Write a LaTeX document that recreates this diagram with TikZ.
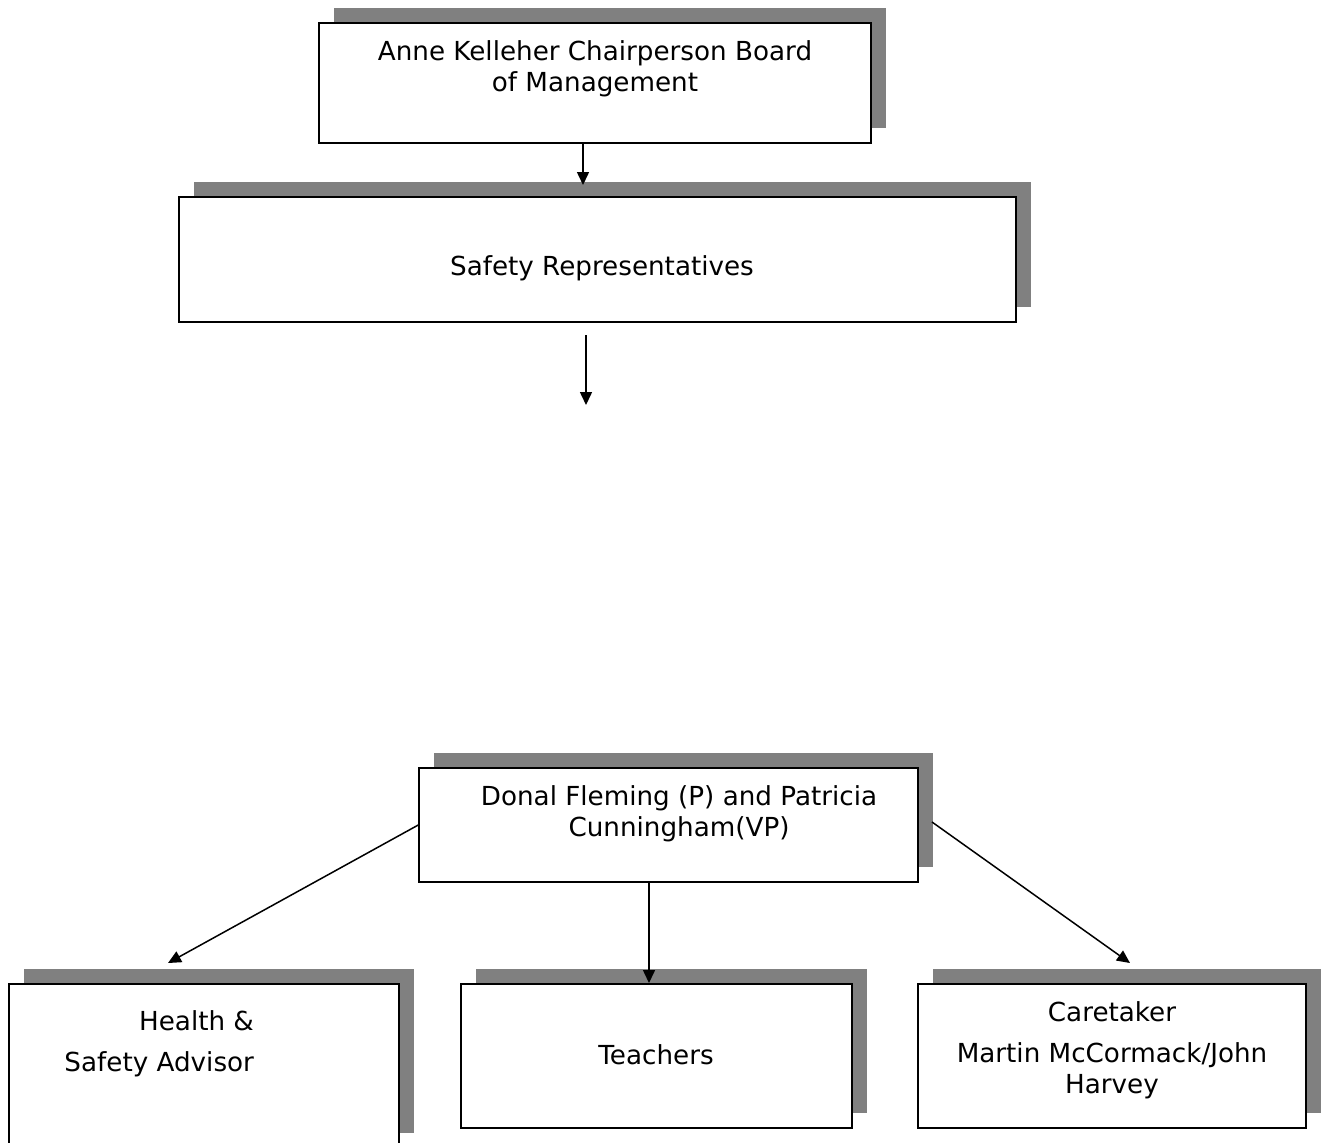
\documentclass[tikz,border=0pt]{standalone}
\usepackage{fontspec}
\setmainfont{DejaVu Sans}
\usetikzlibrary{shadows,arrows.meta}
\tikzset{
  orgbox/.style={draw, line width=0.75pt, fill=white, inner sep=0pt,
    drop shadow={shadow xshift=7.5pt, shadow yshift=7.5pt, fill=gray, opacity=1}},
  orgtext/.style={align=center, font=\fontsize{13.1pt}{15.5pt}\selectfont},
  orgarrow/.style={line width=0.75pt, -{Triangle[length=6.5pt,width=6pt]}}
}
\begin{document}
\begin{tikzpicture}[x=0.5pt, y=-0.5pt]
      \useasboundingbox (0,0) rectangle (1322,1142);
      \node[orgbox, minimum width=276pt, minimum height=60pt] (chair) at (595,83) {};
      \node[orgbox, minimum width=418.5pt, minimum height=62.5pt] (safety) at (597.5,259.5) {};
      \node[orgbox, minimum width=249.5pt, minimum height=57pt] (principal) at (668.5,825) {};
      \node[orgbox, minimum width=195pt, minimum height=82pt] (health) at (204,1066) {};
      \node[orgbox, minimum width=195.5pt, minimum height=72pt] (teachers) at (656.5,1056) {};
      \node[orgbox, minimum width=194pt, minimum height=72pt] (caretaker) at (1112,1056) {};
      \node[orgtext] (chairtext) at (595,69) {Anne Kelleher Chairperson Board\\of Management};
      \node[orgtext] (safetytext) at (602,268) {Safety Representatives};
      \node[orgtext] (principaltext) at (679,814) {Donal Fleming (P) and Patricia\\Cunningham(VP)};
      \node[orgtext, align=right, anchor=east] (healthtext) at (261,1044) {Health \&\\[5pt]Safety Advisor};
      \node[orgtext] (teacherstext) at (656,1055) {Teachers};
      \node[orgtext] (caretakertext) at (1112,1050) {Caretaker\\[5pt]Martin McCormack/John\\Harvey};
      \coordinate (chairtip) at (583,185);
      \coordinate (gaptop) at (586,335);
      \coordinate (gaptip) at (586,405);
      \coordinate (healthtip) at (168,963);
      \coordinate (teacherstip) at (649,983);
      \coordinate (caretop) at (932,822);
      \coordinate (caretip) at (1130,963);
      \begin{scope}[orgarrow]
        \draw (chair.south -| chairtip) to (chairtip);
        \draw (gaptop) to (gaptip);
        \draw (principal.west) to (healthtip);
        \draw (principal.south -| teacherstip) to (teacherstip);
        \draw (caretop) to (caretip);
      \end{scope}
    \end{tikzpicture}
\end{document}
